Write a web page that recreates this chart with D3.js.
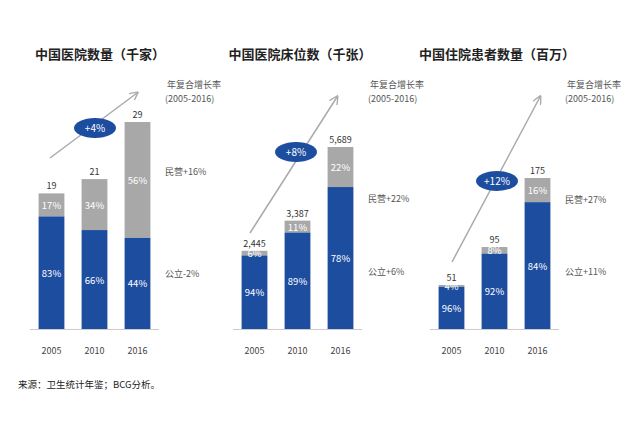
<!DOCTYPE html><html><head><meta charset="utf-8"><script src="https://cdn.jsdelivr.net/npm/d3@7"></script>
<style>body{margin:0;background:#fff}text{font-family:"Noto Sans CJK SC","Noto Sans",sans-serif}</style></head><body><svg width="640" height="427"></svg>
<script>
const years=["2005","2010","2016"];
const titles=["中国医院数量（千家）","中国医院床位数（千张）","中国住院患者数量（百万）"];
const totals=[[19,21,29],[2445,3387,5689],[51,95,175]];
const totalLabels=[["19","21","29"],["2,445","3,387","5,689"],["51","95","175"]];
const publicPct=[[83,66,44],[94,89,78],[96,92,84]];
const privatePct=[[17,34,56],[6,11,22],[4,8,16]];
const cagr=["+4%","+8%","+12%"];
const privLabels=["民营+16%","民营+22%","民营+27%"];
const pubLabels=["公立-2%","公立+6%","公立+11%"];
const layout=[{x0:30,top:122,cx:100,privY:172,pubY:274,ell:[95,128],arr:[50,158,137,93]},
{x0:233,top:147,cx:300,privY:199,pubY:272,ell:[296,152],arr:[250,233,337,97]},
{x0:430,top:178,cx:497,privY:200,pubY:272,ell:[497,181],arr:[452,262,540,97]}];
const svg=d3.select("svg");const base=329,blue="#1d4d9f",gray="#a8a8a8";
svg.append("defs").append("marker").attr("id","ah").attr("viewBox","0 0 10 10").attr("refX",8).attr("refY",5)
 .attr("markerWidth",6).attr("markerHeight",6).attr("orient","auto").append("path").attr("d","M0,0L10,5L0,10").attr("fill","none").attr("stroke","#aaa").attr("stroke-width",1.5);
layout.forEach((L,p)=>{
 const g=svg.append("g");
 const x=d3.scaleBand().domain(years).range([L.x0,L.x0+129]).paddingInner(0.4).paddingOuter(0.2);
 const mx=d3.max(totals[p]);
 const y=d3.scaleLinear().domain([0,mx]).range([base,L.top]);
 g.append("text").attr("x",L.cx).attr("y",59).attr("text-anchor","middle").attr("font-size",13).attr("font-weight","bold").attr("fill","#222").text(titles[p]);
 g.append("line").attr("x1",L.arr[0]).attr("y1",L.arr[1]).attr("x2",L.arr[2]).attr("y2",L.arr[3]).attr("stroke","#aaa").attr("stroke-width",1.5).attr("marker-end","url(#ah)");
 years.forEach((yr,i)=>{
  const t=totals[p][i],pub=t*publicPct[p][i]/100;const bx=x(yr),bw=x.bandwidth();
  g.append("rect").attr("x",bx).attr("width",bw).attr("y",y(t)).attr("height",y(pub)-y(t)).attr("fill",gray);
  g.append("rect").attr("x",bx).attr("width",bw).attr("y",y(pub)).attr("height",base-y(pub)).attr("fill",blue);
  g.append("text").attr("x",bx+bw/2).attr("y",y(t)-4).attr("text-anchor","middle").attr("font-size",9).attr("fill","#333").text(totalLabels[p][i]);
  g.append("text").attr("x",bx+bw/2).attr("y",(y(t)+y(pub))/2+4).attr("text-anchor","middle").attr("font-size",9.5).attr("fill","#fff").text(privatePct[p][i]+"%");
  g.append("text").attr("x",bx+bw/2).attr("y",(y(pub)+base)/2+4).attr("text-anchor","middle").attr("font-size",9.5).attr("fill","#fff").text(publicPct[p][i]+"%");
  g.append("text").attr("x",bx+bw/2).attr("y",354).attr("text-anchor","middle").attr("font-size",9).attr("fill","#444").text(yr);
 });
 g.append("line").attr("x1",L.x0).attr("x2",L.x0+129).attr("y1",base+0.5).attr("y2",base+0.5).attr("stroke","#ccc");
 g.append("ellipse").attr("cx",L.ell[0]).attr("cy",L.ell[1]).attr("rx",21).attr("ry",10).attr("fill",blue);
 g.append("text").attr("x",L.ell[0]).attr("y",L.ell[1]+4).attr("text-anchor","middle").attr("font-size",10).attr("fill","#fff").text(cagr[p]);
 const rx=L.x0+135;
 g.append("text").attr("x",rx+2).attr("y",88).attr("font-size",9).attr("fill","#555").text("年复合增长率");
 g.append("text").attr("x",rx).attr("y",102).attr("font-size",9).attr("fill","#555").text("(2005-2016)");
 g.append("text").attr("x",rx).attr("y",L.privY+3).attr("font-size",9).attr("fill","#555").text(privLabels[p]);
 g.append("text").attr("x",rx).attr("y",L.pubY+3).attr("font-size",9).attr("fill","#555").text(pubLabels[p]);
});
svg.append("text").attr("x",18).attr("y",388).attr("font-size",9.5).attr("fill","#222").text("来源：卫生统计年鉴；BCG分析。");
</script></body></html>
